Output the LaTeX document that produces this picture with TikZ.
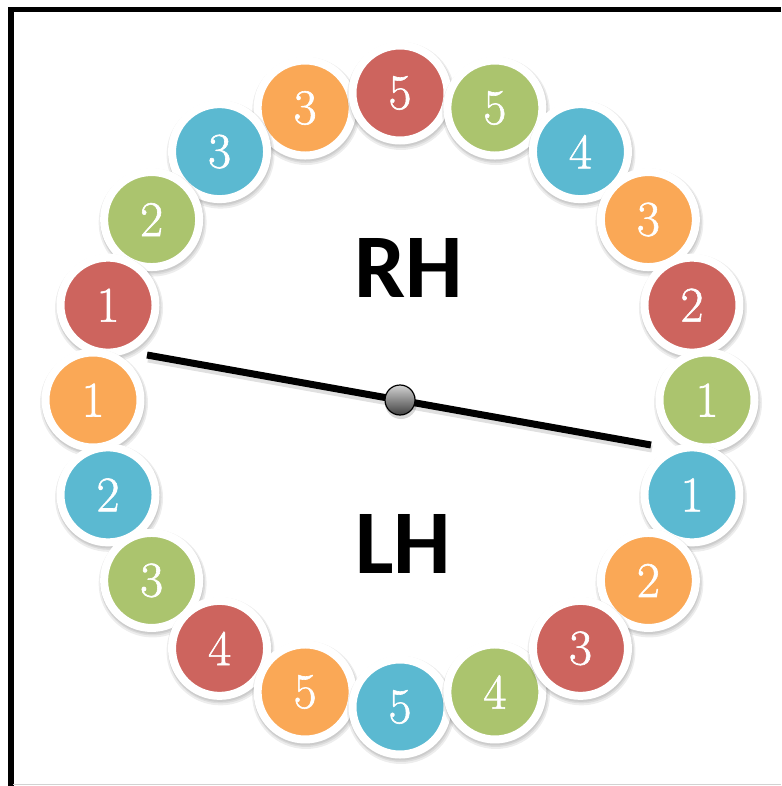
\documentclass[tikz,border=0pt]{standalone}
\usepackage{fontspec}
\newfontfamily\carlito{Carlito}
\newfontfamily\digitfont[FakeBold=1.2]{Latin Modern Roman}
\usetikzlibrary{calc}
\definecolor{cred}{RGB}{205,100,94}
\definecolor{corange}{RGB}{250,168,86}
\definecolor{cblue}{RGB}{91,185,209}
\definecolor{cgreen}{RGB}{171,196,110}
\definecolor{bottomline}{RGB}{210,210,210}
\tikzset{
  beadnode/.style={circle, minimum size=95, inner sep=0, draw=white, line width=8,
    text=white, font=\digitfont\fontsize{50}{50}\selectfont},
  handtext/.style={font=\carlito\bfseries\fontsize{91}{91}\selectfont, text=black},
  shadowring/.style={fill=black, opacity=0.07},
  pointer/.style={line width=7, black},
  hub/.style={circle, minimum size=30, inner sep=0, draw=black, line width=1.2,
    top color=gray!35, bottom color=black!75}
}
\newcommand\mybead[4]{%
  \path (400,400) ++({307*cos(#1)},{-307*sin(#1)}) coordinate (p#4);
  \fill[shadowring] ($(p#4)+(1,3)$) circle (54);
  \fill[shadowring] ($(p#4)+(1,2.5)$) circle (52.5);
  \fill[shadowring] ($(p#4)+(0.5,2)$) circle (51.5);
  \node[beadnode, fill=#2] (n#4) at (p#4) {#3};
}
\begin{document}
\begin{tikzpicture}[x=1pt,y=-1pt]
\useasboundingbox (0,0) rectangle (781,786);
\fill[white] (0,0) rectangle (781,786);
% frame
\fill[black] (8,7) rectangle (781,12.5);
\fill[black] (8,7) rectangle (13.5,786);
\draw[bottomline, line width=1.5] (13,784.5) -- (781,784.5);
% beads, chain A (clockwise from upper left)
\mybead{108}{corange}{3}{a1}
\mybead{90}{cred}{5}{a2}
\mybead{72}{cgreen}{5}{a3}
\mybead{54}{cblue}{4}{a4}
\mybead{36}{corange}{3}{a5}
\mybead{18}{cred}{2}{a6}
\mybead{0}{cgreen}{1}{a7}
\mybead{-18}{cblue}{1}{a8}
\mybead{-36}{corange}{2}{a9}
% chain B (counter-clockwise)
\mybead{126}{cblue}{3}{b1}
\mybead{144}{cgreen}{2}{b2}
\mybead{162}{cred}{1}{b3}
\mybead{180}{corange}{1}{b4}
\mybead{198}{cblue}{2}{b5}
\mybead{216}{cgreen}{3}{b6}
\mybead{234}{cred}{4}{b7}
\mybead{252}{corange}{5}{b8}
\mybead{270}{cblue}{5}{b9}
\mybead{288}{cgreen}{4}{b10}
\mybead{306}{cred}{3}{c1}
% labels
\node[handtext] (rh) at (409,268) {RH};
\node[handtext] (lh) at (403,544) {LH};
% pointer
\coordinate (pl) at (147,355);
\coordinate (pr) at (651,445);
\draw[pointer, opacity=0.12] ($(pl)+(1,4)$) -- ($(pr)+(1,4)$);
\draw[pointer] (pl) -- (pr);
\fill[black, opacity=0.15] (401,403) circle (16);
\node[hub] (hubnode) at (400,400) {};
\end{tikzpicture}
\end{document}
